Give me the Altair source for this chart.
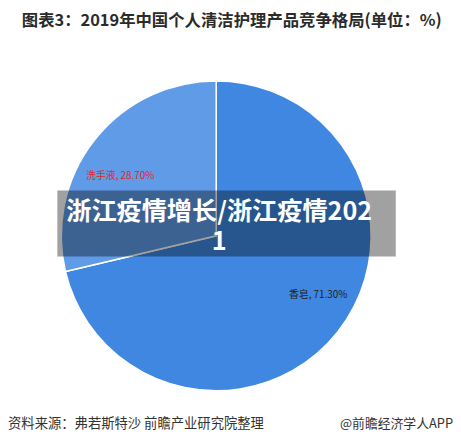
import altair as alt
import pandas as pd

names = ["香皂", "洗手液"]
shares = [71.30, 28.70]
colors = ["#3f87e0", "#609be8"]
title_text = "图表3：2019年中国个人清洁护理产品竞争格局(单位：%)"
source_text = "资料来源：弗若斯特沙 前瞻产业研究院整理"
brand_text = "@前瞻经济学人APP"
banner_text = "浙江疫情增长/浙江疫情202|1"

df = pd.DataFrame({"name": names, "share": shares})

W, H = 451, 432
CX, CY, R = 211, 228, 157
FONT = "Noto Sans CJK SC"

base = alt.Chart(df).encode(
    theta=alt.Theta("share:Q", stack=True),
    order=alt.Order("name:N", sort="descending"),
)

pie = base.mark_arc(stroke="white", strokeWidth=1.5).encode(
    color=alt.Color("name:N", sort=names,
                    scale=alt.Scale(domain=names, range=colors), legend=None),
    x=alt.value(CX), y=alt.value(CY), radius=alt.value(R),
)

labels = base.transform_calculate(
    label="datum.name + ', ' + format(datum.share, '.2f') + '%'"
).mark_text(font=FONT, fontSize=10, thetaOffset=-0.128).encode(
    text="label:N",
    x=alt.value(CX + 3), y=alt.value(CY), radius=alt.value(117),
    color=alt.condition("datum.name == '洗手液'", alt.value("#e02525"), alt.value("#222222")),
)

one = pd.DataFrame({"a": [0]})
banner = alt.Chart(one).mark_rect(color="black", opacity=0.37).encode(
    x=alt.value(50), x2=alt.value(393), y=alt.value(182), y2=alt.value(249)
)
banner_t = alt.Chart(one).mark_text(
    font=FONT, fontSize=25.5, fontWeight="bold", color="white",
    lineBreak="|", lineHeight=30, align="center", baseline="middle"
).encode(x=alt.value(214), y=alt.value(204), text=alt.value(banner_text))

title = alt.Chart(one).mark_text(
    font=FONT, fontSize=16.6, fontWeight="bold", color="#2b2b2b",
    align="left", baseline="middle"
).encode(x=alt.value(14), y=alt.value(10), text=alt.value(title_text))

src = alt.Chart(one).mark_text(
    font=FONT, fontSize=13.5, color="#333333", align="left", baseline="middle"
).encode(x=alt.value(0), y=alt.value(419), text=alt.value(source_text))

brand = alt.Chart(one).mark_text(
    font=FONT, fontSize=13, color="#333333", align="right", baseline="middle"
).encode(x=alt.value(451), y=alt.value(419), text=alt.value(brand_text))

chart = alt.layer(pie, labels, banner, banner_t, title, src, brand).properties(
    width=W, height=H, autosize=alt.AutoSizeParams(type="none"), padding=0,
    background="white"
).configure_view(stroke=None, strokeWidth=0)

chart.save("out.html", embed_options={"renderer": "svg", "actions": False})
